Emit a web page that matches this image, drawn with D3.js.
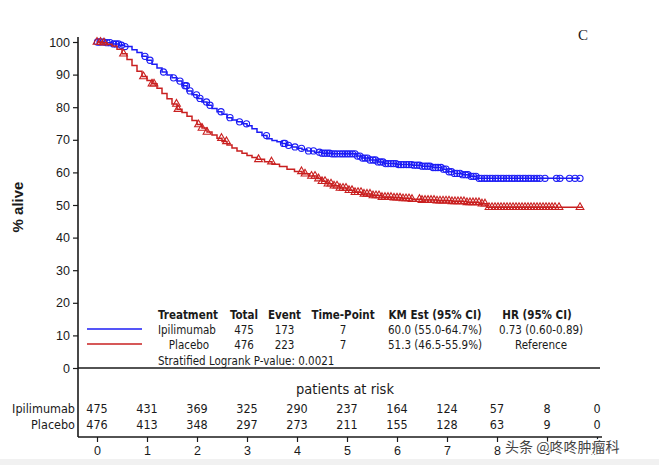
<!DOCTYPE html>
<html>
<head>
<meta charset="utf-8">
<script src="https://cdn.jsdelivr.net/npm/d3@7"></script>
<style>
  body { margin: 0; background: #fff; }
  svg { display: block; }
</style>
</head>
<body>
<svg id="km"></svg>
<script>
// step times (years) and survival (%) after each drop
var ipiTimes = [0.15, 0.3, 0.45, 0.55, 0.7, 0.8, 0.9, 1.0, 1.1, 1.2, 1.3, 1.4, 1.5, 1.6, 1.7, 1.8, 1.9, 2.0, 2.1, 2.2, 2.3, 2.4, 2.5, 2.6, 2.7, 2.8, 2.9, 3.0, 3.1, 3.2, 3.3, 3.4, 3.5, 3.6, 3.7, 3.8, 3.9, 4.0, 4.1, 4.2, 4.35, 4.5, 4.7, 5.2, 5.3, 5.45, 5.6, 5.75, 6.0, 6.3, 6.5, 6.7, 6.9, 7.0, 7.15, 7.3, 7.45, 7.6];
var ipiSurv = [99.8, 99.4, 99.0, 98.6, 97.6, 96.8, 95.6, 94.4, 93.2, 92.0, 90.8, 89.9, 89.0, 88.0, 86.6, 85.0, 83.8, 82.7, 81.6, 80.6, 79.6, 78.6, 77.8, 76.8, 76.1, 75.5, 74.9, 74.3, 73.4, 72.3, 71.3, 70.3, 69.8, 69.4, 68.9, 68.3, 67.8, 67.4, 67.0, 66.6, 66.2, 65.9, 65.7, 65.0, 64.4, 63.8, 63.2, 62.7, 62.4, 62.2, 61.9, 61.5, 61.0, 60.2, 59.7, 59.3, 58.8, 58.2];
var ipiEnd = 9.66;
var ipiCensor = [0.01, 0.06, 0.13, 0.2, 0.26, 0.33, 0.38, 0.43, 0.49, 0.56, 0.96, 1.06, 1.33, 1.53, 1.66, 1.76, 1.79, 1.86, 1.99, 2.06, 2.19, 2.26, 2.48, 2.66, 2.85, 2.99, 3.39, 3.73, 3.76, 3.83, 3.96, 4.09, 4.23, 4.33,
  4.45, 4.5, 4.55, 4.6, 4.65, 4.7, 4.75, 4.8, 4.86, 4.91, 4.96, 5.01, 5.06, 5.11, 5.16, 5.21, 5.26, 5.31, 5.36, 5.41, 5.46, 5.52, 5.57, 5.62, 5.67, 5.72, 5.77, 5.82, 5.88, 5.93, 5.98, 6.03, 6.08, 6.13, 6.19, 6.24, 6.29, 6.34, 6.4, 6.45, 6.5, 6.56, 6.61, 6.66, 6.72, 6.77, 6.82, 6.88, 6.93, 6.98, 7.04, 7.09, 7.15, 7.2, 7.26, 7.31, 7.37, 7.42, 7.48, 7.53, 7.58, 7.64, 7.69, 7.75, 7.8, 7.86, 7.91, 7.97, 8.02, 8.08, 8.13, 8.19, 8.24, 8.3, 8.35, 8.41, 8.46, 8.52, 8.57, 8.63, 8.68, 8.74, 8.8, 8.86,
  8.96, 9.19, 9.26, 9.45, 9.56, 9.66];

var pboTimes = [0.1, 0.2, 0.3, 0.4, 0.5, 0.6, 0.7, 0.8, 0.9, 1.0, 1.1, 1.2, 1.3, 1.4, 1.5, 1.6, 1.7, 1.8, 1.9, 2.0, 2.1, 2.2, 2.3, 2.4, 2.5, 2.6, 2.7, 2.8, 2.9, 3.0, 3.1, 3.2, 3.35, 3.5, 3.65, 3.8, 3.95, 4.1, 4.25, 4.4, 4.5, 4.6, 4.7, 4.85, 5.0, 5.15, 5.3, 5.5, 5.7, 5.9, 6.1, 6.3, 6.5, 6.8, 7.1, 7.4, 7.65, 7.8];
var pboSurv = [99.8, 99.3, 98.8, 97.8, 96.4, 94.6, 92.8, 91.0, 89.4, 88.2, 87.2, 85.8, 84.2, 82.6, 81.0, 79.4, 78.4, 77.2, 75.9, 74.7, 73.6, 72.4, 71.5, 70.5, 69.5, 68.4, 67.5, 66.6, 65.9, 65.2, 64.6, 64.0, 63.3, 62.5, 61.8, 61.0, 60.3, 59.6, 58.9, 58.1, 57.3, 56.5, 55.9, 55.2, 54.5, 53.9, 53.4, 52.9, 52.4, 52.2, 52.0, 51.8, 51.5, 51.3, 51.1, 50.8, 50.4, 49.3];
var pboEnd = 9.72;
var pboCensor = [0.0, 0.07, 0.14, 0.53, 0.93, 1.1, 1.14, 1.59, 1.62, 2.03, 2.1, 2.2, 2.49, 2.59, 3.23, 3.49, 4.09, 4.16, 4.29, 4.36, 4.43,
  4.5, 4.56, 4.62, 4.68, 4.74, 4.8, 4.86, 4.92, 4.98, 5.04, 5.1, 5.16, 5.22, 5.28, 5.34, 5.4, 5.46, 5.52, 5.58, 5.64, 5.7, 5.76, 5.82, 5.88, 5.94, 6.0, 6.06, 6.12, 6.18, 6.24, 6.3,
  6.45, 6.5, 6.56, 6.62, 6.68, 6.74, 6.8, 6.86, 6.92, 6.98, 7.04, 7.1, 7.16, 7.22, 7.28, 7.34, 7.4, 7.46, 7.52, 7.58, 7.64, 7.7, 7.76,
  7.84, 7.9, 7.96, 8.02, 8.08, 8.14, 8.2, 8.26, 8.32, 8.38, 8.44, 8.5, 8.56, 8.62, 8.68, 8.74, 8.8, 8.86, 8.92, 8.98, 9.04, 9.1, 9.16, 9.24, 9.66];

var groups = ["Ipilimumab", "Placebo"];
var riskTimes = [0, 1, 2, 3, 4, 5, 6, 7, 8, 9, 10];
var ipiRisk = [475, 431, 369, 325, 290, 237, 164, 124, 57, 8, 0];
var pboRisk = [476, 413, 348, 297, 273, 211, 155, 128, 63, 9, 0];

var tableHead = ["Treatment", "Total", "Event", "Time-Point", "KM Est (95% CI)", "HR (95% CI)"];
var tableIpi = ["Ipilimumab", "475", "173", "7", "60.0 (55.0-64.7%)", "0.73 (0.60-0.89)"];
var tablePbo = ["Placebo", "476", "223", "7", "51.3 (46.5-55.9%)", "Reference"];
var pValueText = "Stratified Logrank P-value: 0.0021";

var W = 659, H = 465;
var blue = "#1c1cf5", red = "#c92020", ink = "#1a1a1a";

var svg = d3.select("#km").attr("width", W).attr("height", H);
svg.append("rect").attr("width", W).attr("height", H).attr("fill", "#fff");
svg.append("rect").attr("y", 459).attr("width", W).attr("height", 6).attr("fill", "#f1f1f1");

var x = d3.scaleLinear().domain([0, 10]).range([97, 597]);
var y = d3.scaleLinear().domain([0, 100]).range([368, 42]);

// y axis
var yAxis = svg.append("g")
  .attr("transform", "translate(78,0)")
  .call(d3.axisLeft(y).tickValues(d3.range(0, 101, 10)).tickSize(5).tickPadding(3));
yAxis.select(".domain").remove();
yAxis.selectAll("line").attr("stroke", ink).attr("stroke-width", 1.2);
yAxis.selectAll("text").attr("fill", ink).style("font", "12.5px 'Liberation Sans', Arial, sans-serif");

svg.append("line").attr("x1", 78).attr("x2", 78).attr("y1", 37).attr("y2", 437)
  .attr("stroke", ink).attr("stroke-width", 1.6);
svg.append("line").attr("x1", 78).attr("x2", 600).attr("y1", y(0)).attr("y2", y(0))
  .attr("stroke", ink).attr("stroke-width", 1.6);

// bottom axis below risk table
var xAxis = svg.append("g")
  .attr("transform", "translate(0,437)")
  .call(d3.axisBottom(x).tickValues(riskTimes).tickSize(5).tickPadding(4));
xAxis.select(".domain").remove();
xAxis.selectAll("line").attr("stroke", ink).attr("stroke-width", 1.2);
xAxis.selectAll("text").attr("fill", ink).style("font", "12.5px 'Liberation Sans', Arial, sans-serif");
svg.append("line").attr("x1", 78).attr("x2", 602).attr("y1", 437).attr("y2", 437)
  .attr("stroke", ink).attr("stroke-width", 1.6);

svg.append("text")
  .attr("transform", "translate(23,207) rotate(-90)")
  .attr("text-anchor", "middle")
  .style("font", "bold 15px 'Liberation Sans', Arial, sans-serif")
  .attr("fill", ink)
  .text("% alive");

svg.append("text").attr("x", 578).attr("y", 40)
  .style("font", "15px 'Liberation Serif', serif").attr("fill", ink).text("C");

// curves
function stepPoints(times, surv, end) {
  var pts = [[0, 100]];
  times.forEach(function (t, i) { pts.push([t, surv[i]]); });
  pts.push([end, surv[surv.length - 1]]);
  return pts;
}
function survAt(times, surv, t) {
  var s = 100;
  times.forEach(function (tt, i) { if (tt <= t) s = surv[i]; });
  return s;
}
var line = d3.line().curve(d3.curveStepAfter)
  .x(function (d) { return x(d[0]); })
  .y(function (d) { return y(d[1]); });

var series = [
  { times: ipiTimes, surv: ipiSurv, end: ipiEnd, censor: ipiCensor, color: blue, sym: d3.symbolCircle, size: 30 },
  { times: pboTimes, surv: pboSurv, end: pboEnd, censor: pboCensor, color: red, sym: d3.symbolTriangle, size: 26 }
];

series.forEach(function (s) {
  svg.append("path")
    .datum(stepPoints(s.times, s.surv, s.end))
    .attr("d", line)
    .attr("fill", "none")
    .attr("stroke", s.color)
    .attr("stroke-width", 1.5);
  svg.append("g").selectAll("path")
    .data(s.censor)
    .join("path")
    .attr("transform", function (t) { return "translate(" + x(t) + "," + y(survAt(s.times, s.surv, t)) + ")"; })
    .attr("d", d3.symbol().type(s.sym).size(s.size))
    .attr("fill", "none")
    .attr("stroke", s.color)
    .attr("stroke-width", 1.1);
});

// legend table
var tf = "11.5px 'DejaVu Sans Condensed', 'DejaVu Sans', sans-serif";
var colX = [158, 244, 284.5, 343, 435, 537];
var rowY = [319, 334, 349];
var leg = svg.append("g").attr("fill", ink);
tableHead.forEach(function (h, i) {
  leg.append("text").attr("x", colX[i]).attr("y", rowY[0])
    .attr("text-anchor", i === 0 ? "start" : "middle")
    .style("font", "bold " + tf).text(h);
});
[tableIpi, tablePbo].forEach(function (row, r) {
  row.forEach(function (v, i) {
    var cx = colX[i], anchor = "middle";
    if (i === 0) { if (r === 0) anchor = "start"; else cx = 189; }
    if (i === 5) cx = 541;
    leg.append("text").attr("x", cx).attr("y", rowY[r + 1])
      .attr("text-anchor", anchor).style("font", tf).text(v);
  });
  svg.append("line").attr("x1", 87).attr("x2", 142)
    .attr("y1", rowY[r + 1] - 5).attr("y2", rowY[r + 1] - 5)
    .attr("stroke", r === 0 ? blue : red).attr("stroke-width", 1.3);
});
leg.append("text").attr("x", 158).attr("y", 364.5).style("font", tf).text(pValueText);

// patients at risk
var rf = "12.5px 'DejaVu Sans Condensed', 'DejaVu Sans', sans-serif";
svg.append("text").attr("x", 345).attr("y", 394).attr("text-anchor", "middle")
  .style("font", "14.5px 'DejaVu Sans Condensed', 'DejaVu Sans', sans-serif").attr("fill", ink)
  .text("patients at risk");
[ipiRisk, pboRisk].forEach(function (vals, r) {
  var ry = 413 + r * 16;
  svg.append("text").attr("x", 75).attr("y", ry).attr("text-anchor", "end")
    .style("font", rf).attr("fill", ink).text(groups[r]);
  svg.append("g").selectAll("text").data(vals).join("text")
    .attr("x", function (d, i) { return x(riskTimes[i]); })
    .attr("y", ry)
    .attr("text-anchor", "middle")
    .style("font", rf).attr("fill", ink)
    .text(function (d) { return d; });
});

// watermark
svg.append("text").attr("x", 505).attr("y", 452)
  .style("font", "14px 'Noto Sans CJK SC', sans-serif")
  .attr("fill", "#444").attr("stroke", "#fff").attr("stroke-width", 2.5).attr("paint-order", "stroke")
  .text("头条 @咚咚肿瘤科");
</script>
</body>
</html>
